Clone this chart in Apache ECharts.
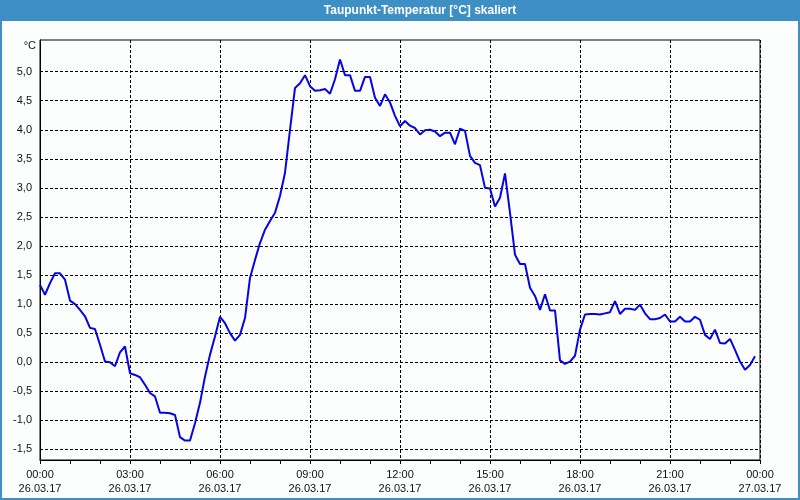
<!DOCTYPE html>
<html>
<head>
<meta charset="utf-8">
<script src="https://cdn.jsdelivr.net/npm/echarts@6/dist/echarts.min.js"></script>
<style>
html,body{margin:0;padding:0;background:#fcfefe;}
#c{width:800px;height:500px;}
</style>
</head>
<body>
<div id="c"></div>
<script>
// Dew point values, one sample every 10 minutes starting 26.03.17 00:00
const values = [
 1.33, 1.16, 1.36, 1.53, 1.53, 1.42, 1.06, 1.00, 0.90, 0.79, 0.59, 0.57,
 0.30, 0.01, 0.00, -0.07, 0.17, 0.27, -0.19, -0.22, -0.26, -0.39, -0.53, -0.59,
 -0.87, -0.87, -0.88, -0.91, -1.29, -1.35, -1.35, -1.05, -0.70, -0.25, 0.13, 0.44,
 0.78, 0.67, 0.50, 0.37, 0.47, 0.76, 1.45, 1.76, 2.05, 2.28, 2.43, 2.57,
 2.86, 3.26, 4.00, 4.72, 4.80, 4.94, 4.75, 4.67, 4.68, 4.70, 4.62, 4.87,
 5.21, 4.94, 4.94, 4.67, 4.67, 4.91, 4.91, 4.55, 4.41, 4.61, 4.47, 4.24,
 4.06, 4.15, 4.07, 4.03, 3.92, 3.99, 4.00, 3.97, 3.89, 3.95, 3.95, 3.75,
 4.02, 3.98, 3.55, 3.43, 3.39, 3.00, 2.99, 2.68, 2.83, 3.25, 2.57, 1.85,
 1.69, 1.69, 1.28, 1.14, 0.90, 1.17, 0.89, 0.89, 0.03, -0.03, 0.01, 0.11,
 0.56, 0.82, 0.83, 0.83, 0.82, 0.84, 0.86, 1.05, 0.83, 0.92, 0.92, 0.90,
 0.99, 0.84, 0.74, 0.74, 0.76, 0.82, 0.70, 0.70, 0.78, 0.70, 0.70, 0.78,
 0.73, 0.47, 0.40, 0.56, 0.33, 0.32, 0.40, 0.21, 0.01, -0.13, -0.05, 0.10
];
const sampleMinutes = 10;
const xTickLabels = ['00:00\n26.03.17','03:00\n26.03.17','06:00\n26.03.17','09:00\n26.03.17',
  '12:00\n26.03.17','15:00\n26.03.17','18:00\n26.03.17','21:00\n26.03.17','00:00\n27.03.17'];
const yTicks = [-1.5,-1.0,-0.5,0.0,0.5,1.0,1.5,2.0,2.5,3.0,3.5,4.0,4.5,5.0];
const titleText = 'Taupunkt-Temperatur [°C] skaliert';
const unitText = '°C';

const seriesData = values.map((v, i) => [i * sampleMinutes / 60, v]);
const font = 'Liberation Sans';

const chart = echarts.init(document.getElementById('c'), null, {renderer: 'canvas'});
chart.setOption({
  backgroundColor: '#fcfefe',
  animation: false,
  grid: {left: 40, right: 40, top: 40, bottom: 40, show: true, borderColor: '#000', borderWidth: 1, backgroundColor: 'transparent'},
  xAxis: [{
    type: 'value', min: 0, max: 24, interval: 3,
    axisLine: {show: true, onZero: false, lineStyle: {color: '#000', width: 1}},
    axisTick: {show: false},
    splitLine: {show: true, lineStyle: {color: '#000', type: [3, 2], width: 1}},
    axisLabel: {
      margin: 8, color: '#111', fontFamily: font, fontSize: 11, lineHeight: 14,
      formatter: (v) => xTickLabels[Math.round(v / 3)]
    }
  }, {
    type: 'value', min: 0, max: 24, interval: 1, position: 'bottom',
    axisLine: {show: false, onZero: false},
    axisTick: {show: true, length: 4, inside: false, lineStyle: {color: '#000'}},
    splitLine: {show: false},
    axisLabel: {show: false}
  }],
  yAxis: {
    type: 'value', min: -1.684, max: 5.545,
    axisLine: {show: true, onZero: false, lineStyle: {color: '#000', width: 1}},
    axisTick: {show: false, customValues: yTicks},
    splitLine: {show: true, lineStyle: {color: '#000', type: [3, 2], width: 1}},
    axisLabel: {
      customValues: yTicks, margin: 8, color: '#111', fontFamily: font, fontSize: 11,
      formatter: (v) => v.toFixed(1).replace('.', ',')
    }
  },
  graphic: [
    {type: 'rect', shape: {x: 0, y: 0, width: 800, height: 21}, style: {fill: '#3d8fc4'}, z: 0},
    {type: 'rect', shape: {x: 1, y: 1, width: 798, height: 498}, style: {fill: 'none', stroke: '#3d8fc4', lineWidth: 2}, z: 0},
    {type: 'text', x: 420, y: 11, style: {text: titleText, fill: '#fff', font: 'bold 12px "Liberation Sans"', textAlign: 'center', textVerticalAlign: 'middle'}, z: 1},
    {type: 'text', x: 36, y: 46, style: {text: unitText, fill: '#111', font: '11px "Liberation Sans"', textAlign: 'right', textVerticalAlign: 'middle'}, z: 1}
  ],
  series: [{
    type: 'line', xAxisIndex: 0, data: seriesData, showSymbol: false, symbol: 'none',
    lineStyle: {color: '#0505e3', width: 2}, silent: true
  }]
});
</script>
</body>
</html>
